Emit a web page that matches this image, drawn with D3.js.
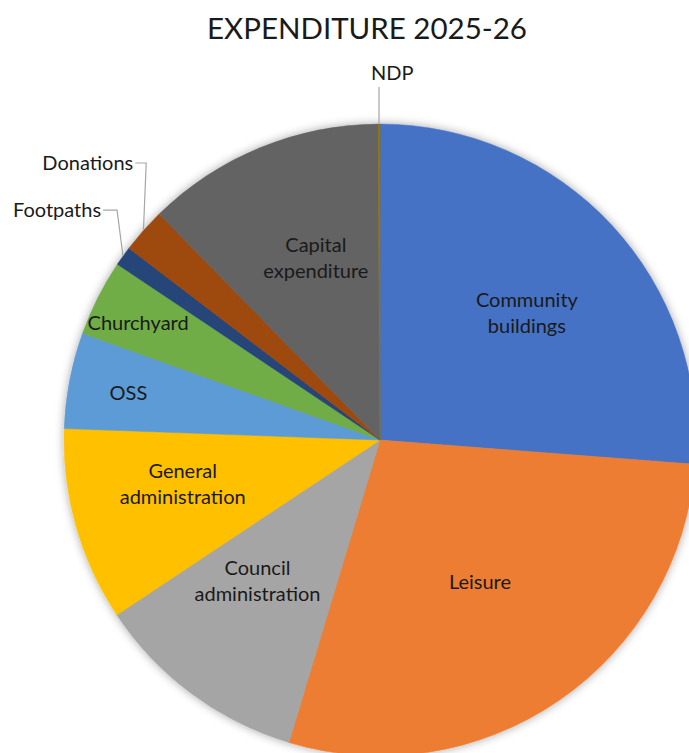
<!DOCTYPE html>
<html>
<head>
<meta charset="utf-8">
<script src="https://cdn.jsdelivr.net/npm/d3@7/dist/d3.min.js"></script>
<style>
  html, body { margin: 0; padding: 0; background: #fff; overflow: hidden; }
  svg { display: block; }
</style>
</head>
<body>
<svg id="chart" width="689" height="753"></svg>
<script>
// ---- data (percent share of expenditure) ----
const categories = [
  "Community buildings", "Leisure", "Council administration", "General administration",
  "OSS", "Churchyard", "Footpaths", "Donations", "Capital expenditure", "NDP"
];
const values = [26.2, 28.4, 11.0, 9.9, 4.9, 3.9, 1.0, 2.3, 12.2, 0.1];
const labelLines = [
  ["Community", "buildings"], ["Leisure"], ["Council", "administration"],
  ["General", "administration"], ["OSS"], ["Churchyard"], ["Footpaths"],
  ["Donations"], ["Capital", "expenditure"], ["NDP"]
];
const title = "EXPENDITURE 2025-26";
const colors = ["#4472C4", "#ED7D31", "#A5A5A5", "#FFC000", "#5B9BD5", "#70AD47",
                "#264478", "#9E480E", "#636363", "#997300"];

// ---- layout / style ----
const W = 689, H = 753;
const cx = 380, cy = 440, R = 316;
const font = "Lato, 'Open Sans', sans-serif";
const labelSize = 20, lineH = 26;
// best-fit label placement: radius fraction and angular nudge (degrees)
const insidePlace = {
  "Community buildings": { rf: 0.614, da: 2 },
  "Leisure": { rf: 0.55, da: -0.7 },
  "Council administration": { rf: 0.59, da: 4.5 },
  "General administration": { rf: 0.64, da: 3.1 },
  "OSS": { rf: 0.81, da: -0.3 },
  "Churchyard": { rf: 0.85, da: -1 },
  "Capital expenditure": { rf: 0.61, da: 2.9 }
};
const outsidePlace = {
  "NDP": { ang: 0, rf: 1.117, kind: "top" },
  "Donations": { ang: 318.3, rf: 1.174, kind: "left", elbow: 13 },
  "Footpaths": { ang: 309.5, rf: 1.144, kind: "left", elbow: 16 }
};

const svg = d3.select("#chart");
const defs = svg.append("defs");
const f = defs.append("filter").attr("id", "shadow")
  .attr("x", "-20%").attr("y", "-20%").attr("width", "140%").attr("height", "140%");
f.append("feDropShadow").attr("dx", 0).attr("dy", 0).attr("stdDeviation", 5)
  .attr("flood-color", "#000").attr("flood-opacity", 0.35);

svg.append("text")
  .attr("x", 367).attr("y", 39)
  .attr("text-anchor", "middle")
  .attr("font-family", font).attr("font-size", 29.5)
  .attr("fill", "#1a1a1a")
  .text(title);

const data = categories.map((c, i) => ({ name: c, value: values[i], lines: labelLines[i], color: colors[i] }));
const pie = d3.pie().sort(null).value(d => d.value);
const arcs = pie(data);
const arc = d3.arc().innerRadius(0).outerRadius(R);

const g = svg.append("g").attr("transform", `translate(${cx},${cy})`);
g.append("g").attr("filter", "url(#shadow)")
  .selectAll("path").data(arcs).join("path")
  .attr("d", arc)
  .attr("fill", d => d.data.color)
  .attr("stroke", d => d.data.color).attr("stroke-width", 0.5);

const mid = d => (d.startAngle + d.endAngle) / 2;
const polar = (a, r) => [Math.sin(a) * r, -Math.cos(a) * r];
const rad = deg => deg * Math.PI / 180;

// inside labels
arcs.filter(d => insidePlace[d.data.name]).forEach(d => {
  const p = insidePlace[d.data.name];
  const [x, y] = polar(mid(d) + rad(p.da), R * p.rf);
  const n = d.data.lines.length;
  const t = g.append("text")
    .attr("text-anchor", "middle")
    .attr("font-family", font).attr("font-size", labelSize)
    .attr("fill", "#1a1a1a");
  d.data.lines.forEach((ln, i) => {
    t.append("tspan").attr("x", x)
      .attr("y", y + (i - (n - 1) / 2) * lineH + labelSize * 0.35)
      .text(ln);
  });
});

// outside labels with leader lines
arcs.filter(d => outsidePlace[d.data.name]).forEach(d => {
  const p = outsidePlace[d.data.name];
  const edge = polar(mid(d), R);
  const [ax, ay] = polar(rad(p.ang), R * p.rf);
  const lbl = g.append("text")
    .attr("font-family", font).attr("font-size", labelSize)
    .attr("fill", "#1a1a1a").text(d.data.lines[0]);
  let pts;
  if (p.kind === "top") {
    lbl.attr("x", edge[0] - 8).attr("y", ay - 7).attr("text-anchor", "start");
    pts = [[edge[0], ay], edge];
  } else {
    lbl.attr("x", ax).attr("y", ay + labelSize * 0.35).attr("text-anchor", "end");
    pts = [[ax + 2, ay], [ax + p.elbow, ay], edge];
  }
  g.append("path")
    .attr("d", d3.line()(pts))
    .attr("fill", "none").attr("stroke", "#a6a6a6").attr("stroke-width", 1.2);
});
</script>
</body>
</html>
